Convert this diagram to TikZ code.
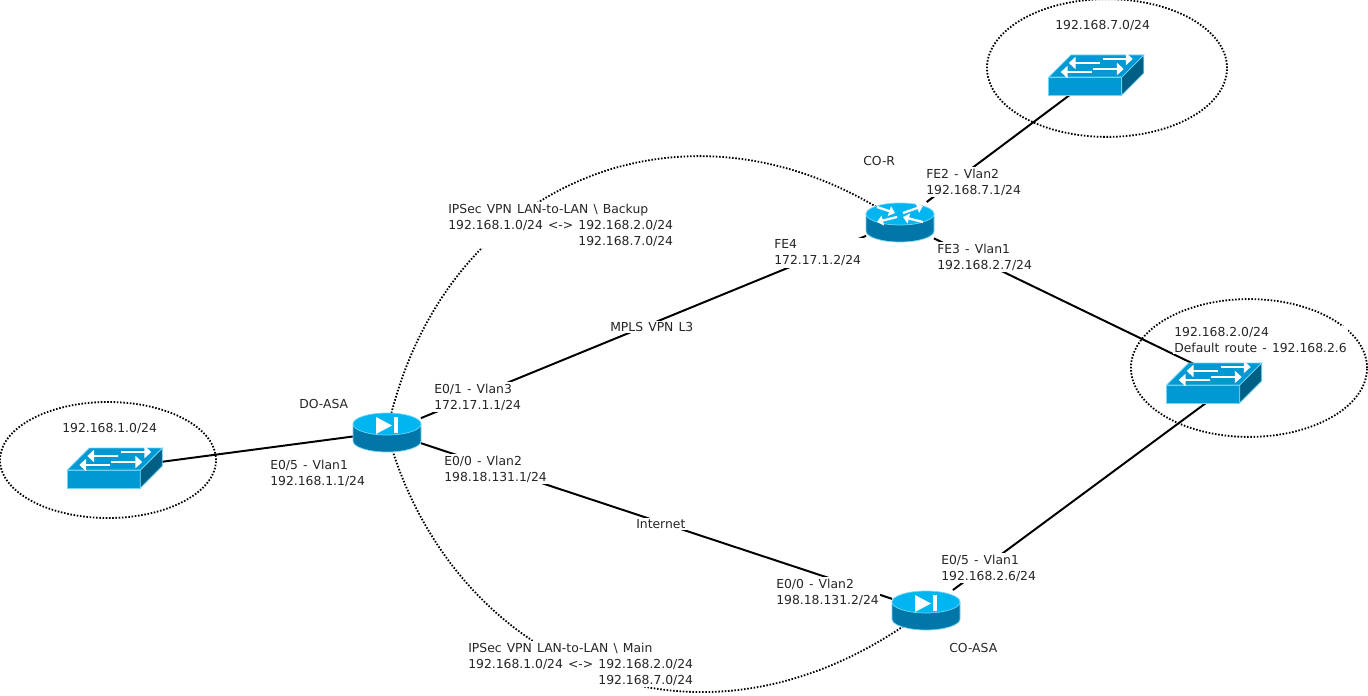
\documentclass[tikz,border=0pt]{standalone}
\usepackage{fontspec}
\setmainfont[WordSpace=1.3]{DejaVu Sans}
\usepackage{tikz}
\usetikzlibrary{arrows.meta,shapes.geometric,backgrounds}
\definecolor{iconlt}{HTML}{00B5F0}
\definecolor{icondk}{HTML}{0077A8}
\definecolor{iconsw}{HTML}{0099D4}
\definecolor{iconside}{HTML}{005F85}
\definecolor{iconedge}{HTML}{6FD6F7}
\tikzset{
  link/.style={line width=1.4pt,draw=black},
  vpnlink/.style={line width=1.3pt,dash pattern=on 1.1pt off 1.2pt,draw=black},
  netzone/.style={ellipse,draw=black,line width=1.3pt,dash pattern=on 1.1pt off 1.2pt,inner sep=0pt},
  lab/.style={font=\fontsize{8.8}{11.4}\selectfont,fill=white,inner sep=1pt,anchor=west,align=left,xshift=-1pt,text=black!85},
  cylnode/.style={minimum width=47.8pt,minimum height=28pt,inner sep=0pt},
  swnode/.style={minimum width=67.5pt,minimum height=28.4pt,inner sep=0pt},
  iconarrow/.style={white,line width=1.6pt,-{Triangle[length=1.5mm,width=2.5mm]}},
  swarrow/.style={white,line width=2.1pt,-{Triangle[length=1.7mm,width=3mm]}},
}
% cylinder body of the router and the firewalls
\newcommand{\cylbody}{
  \fill[icondk,draw=iconedge,line width=.5pt] (-34,-8) -- (-34,9)
    arc[start angle=180,end angle=0,x radius=34,y radius=11] -- (34,-8) -- cycle;
  \fill[iconlt,draw=iconedge,line width=.5pt] (0,-8) ellipse [x radius=34,y radius=11];
}
\newcommand{\asaicon}[1]{
  \begin{scope}[shift={(#1.center)}]
    \cylbody
    \fill[white] (-11,-15) -- (5,-6.5) -- (-11,2) -- cycle;
    \fill[white] (7,-15) rectangle (11,1);
  \end{scope}
}
\newcommand{\routericon}[1]{
  \begin{scope}[shift={(#1.center)}]
    \cylbody
    \draw[iconarrow] (-23,-15) -- (-5,-9);
    \draw[iconarrow] (3,-9) -- (23,-16);
    \draw[iconarrow] (-3,-5) -- (-23,0);
    \draw[iconarrow] (23,0) -- (3,-5);
  \end{scope}
}
% drawn from the west side of the box, the box may be wider than the icon
\newcommand{\switchicon}[1]{
  \begin{scope}[shift={(#1.west)}]
    \fill[iconsw,draw=iconedge,line width=.5pt] (0,2) rectangle (73,20);
    \fill[iconside,draw=iconedge,line width=.5pt] (73,2) -- (95,-20) -- (95,-2) -- (73,20) -- cycle;
    \fill[iconsw,draw=iconedge,line width=.5pt] (0,2) -- (73,2) -- (95,-20) -- (22,-20) -- cycle;
    \draw[swarrow] (54,-16) -- (84,-16);
    \draw[swarrow] (44,-6) -- (75,-6);
    \draw[swarrow] (51,-12) -- (20,-12);
    \draw[swarrow] (43,-3) -- (12,-3);
  \end{scope}
}

\begin{document}
\begin{tikzpicture}[x=0.025cm,y=-0.025cm]
  \useasboundingbox (0,0) rectangle (1368,696);

  % ---------- devices ----------
  \node[cylnode] (doasa) at (387,432) {};
  \node[cylnode] (coasa) at (926,610) {};
  \node[cylnode] (cor) at (900,222) {};
  \node[swnode] (swa) at (115,468) {};
  \node[swnode] (swb) at (1096.5,75) {};
  \node[swnode,minimum width=93.9pt] (swc) at (1233,383) {};

  % ---------- network zones ----------
  \node[netzone,minimum width=153.6pt,minimum height=82.5pt] (zonea) at (108,460) {};
  \node[netzone,minimum width=170.7pt,minimum height=98pt] (zoneb) at (1107,68) {};
  \node[netzone,minimum width=167.9pt,minimum height=98pt] (zonec) at (1249,368) {};

  % ---------- links ----------
  \begin{scope}[on background layer]
    \draw[link] (swa.center) -- (doasa);
    \draw[link] (doasa) -- (cor);
    \draw[link] (doasa) -- (coasa);
    \draw[link] (cor) -- (swb.center);
    \draw[link] (cor) -- (swc.center);
    \draw[link] (coasa) -- (swc.center);
    \draw[vpnlink] (doasa.center) .. controls (440,180) and (690,78) .. (cor.center);
    \draw[vpnlink] (doasa.center) .. controls (450,665) and (700,782) .. (coasa.center);
  \end{scope}

  % ---------- labels ----------
  \node[lab] (lzoneb) at (1055,25) {192.168.7.0/24};
  \node[lab] (lcor) at (863,161) {CO-R};
  \node[lab] (lfetwo) at (926,182) {FE2 - Vlan2\\192.168.7.1/24};
  \node[lab] (lfethree) at (937,257) {FE3 - Vlan1\\192.168.2.7/24};
  \node[lab] (lfefour) at (774,253) {FE4\\172.17.1.2/24};
  \node[lab] (lbackup) at (448,225) {IPSec VPN LAN-to-LAN \textbackslash{} Backup\\192.168.1.0/24 <-> 192.168.2.0/24\\\hphantom{192.168.1.0/24 <-> }192.168.7.0/24};
  \node[lab] (lmpls) at (610,327) {MPLS VPN L3};
  \node[lab] (ldoasa) at (299,404) {DO-ASA};
  \node[lab] (lzonea) at (62,428) {192.168.1.0/24};
  \node[lab] (leonedo) at (434,397) {E0/1 - Vlan3\\172.17.1.1/24};
  \node[lab] (lefivedo) at (270,473) {E0/5 - Vlan1\\192.168.1.1/24};
  \node[lab] (lezerodo) at (444,469) {E0/0 - Vlan2\\198.18.131.1/24};
  \node[lab] (linet) at (636,524) {Internet};
  \node[lab] (lezeroco) at (776,592) {E0/0 - Vlan2\\198.18.131.2/24};
  \node[lab] (lefiveco) at (941,568) {E0/5 - Vlan1\\192.168.2.6/24};
  \node[lab] (lcoasa) at (949,648) {CO-ASA};
  \node[lab] (lmain) at (468,664) {IPSec VPN LAN-to-LAN \textbackslash{} Main\\192.168.1.0/24 <-> 192.168.2.0/24\\\hphantom{192.168.1.0/24 <-> }192.168.7.0/24};
  \node[lab] (lzonec) at (1174,340) {192.168.2.0/24\\Default route - 192.168.2.6};

  % ---------- icons ----------
  \foreach \n in {doasa,coasa} {\asaicon{\n}}
  \routericon{cor}
  \foreach \n in {swa,swb,swc} {\switchicon{\n}}
\end{tikzpicture}
\end{document}
